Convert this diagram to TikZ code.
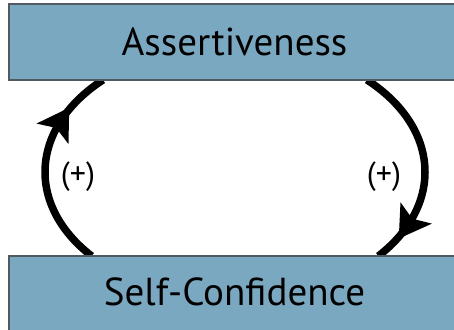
\documentclass[tikz,border=0pt]{standalone}
\usepackage{fontspec}
\setmainfont{PT Sans}
\usetikzlibrary{decorations.markings,calc}
\definecolor{boxblue}{HTML}{7AA8C0}
\definecolor{boxedge}{HTML}{505A60}
\tikzset{
  x=1pt,y=1pt,
  varbox/.style={draw=boxedge,line width=1.2pt,fill=boxblue,minimum width=451pt,inner sep=0pt,font=\fontsize{39}{44}\selectfont},
  loopline/.style={line width=7.5pt,postaction={decorate}},
  headmark/.style={decoration={markings,mark=at position #1 with {\fill (16,0) -- (-15,19) -- (-8,0) -- (-15,-19) -- cycle;}}},
  signlabel/.style={font=\fontsize{32}{36}\selectfont}
}
\begin{document}
\begin{tikzpicture}
\useasboundingbox (0,0) rectangle (454,329);
\fill[white] (0,0) rectangle (454,329);
\coordinate (C) at (235,157);
\draw[loopline,headmark=0.72]
  ($(C)+(221:190 and 128)$) arc[start angle=221,end angle=134,x radius=190,y radius=128];
\draw[loopline,headmark=0.80]
  ($(C)+(46:190 and 128)$) arc[start angle=46,end angle=-41,x radius=190,y radius=128];
\node[varbox,minimum height=76pt] (A) at (234.5,287) {Assertiveness};
\node[varbox,minimum height=80pt] (S) at (234.5,33) {\raisebox{8pt}{Self-Confidence}};
\node[signlabel] (L) at (78,152) {(+)};
\node[signlabel] (R) at (384,152) {(+)};
\end{tikzpicture}
\end{document}
